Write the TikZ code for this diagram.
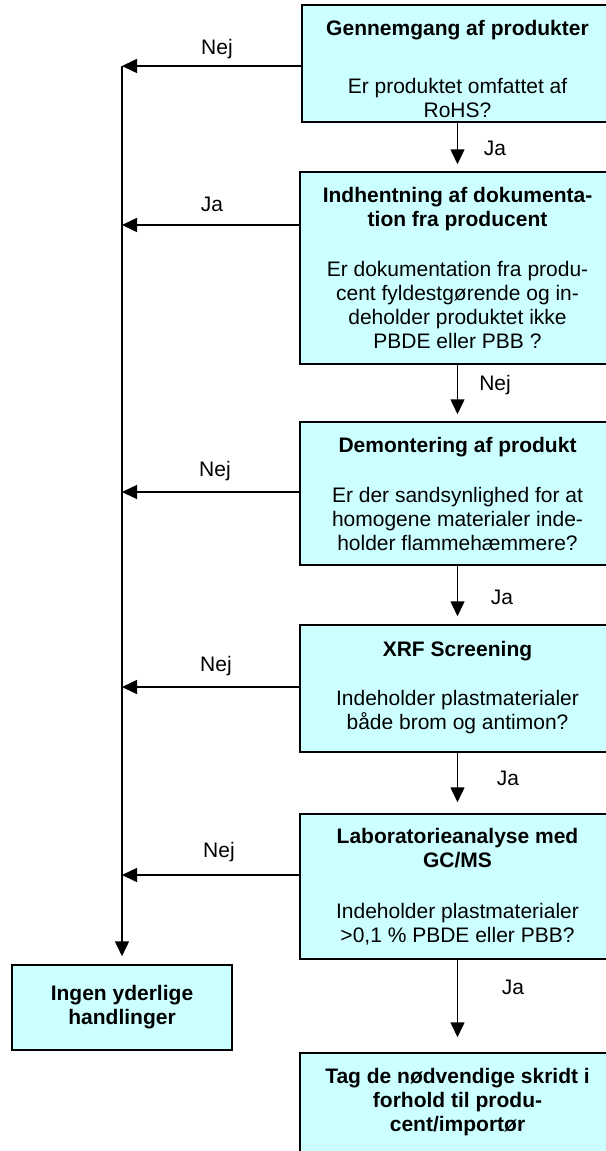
\documentclass[tikz,border=0pt]{standalone}
\usepackage{fontspec}
\setmainfont{Liberation Sans}
\usetikzlibrary{arrows.meta}
\definecolor{boxfill}{RGB}{204,255,255}
\begin{document}
\begin{tikzpicture}[x=1pt,y=-1pt,
  every node/.style={font=\fontsize{21}{24}\selectfont},
  stepbox/.style={draw=black,line width=1.5pt,fill=boxfill,inner sep=0pt},
  boxtext/.style={anchor=north,align=center,inner sep=0pt},
  flow/.style={line width=1.5pt,-{Triangle[length=15pt,width=14pt]}},
  lbl/.style={inner sep=0pt},
]
\useasboundingbox (0,0) rectangle (605,1151);

% process boxes (right edges run off the page)
\node[stepbox,minimum width=311pt,minimum height=117pt] (b1) at (457.5,63.5) {};
\node[stepbox,minimum width=315pt,minimum height=192pt] (b2) at (457.5,268) {};
\node[stepbox,minimum width=315pt,minimum height=143pt] (b3) at (457.5,493.5) {};
\node[stepbox,minimum width=315pt,minimum height=127pt] (b4) at (457.5,688.5) {};
\node[stepbox,minimum width=315pt,minimum height=145pt] (b5) at (457.5,886.5) {};
\node[stepbox,minimum width=315pt,minimum height=100pt] (b6) at (457.5,1103) {};
\node[stepbox,minimum width=220pt,minimum height=85pt] (stop) at (122,1007.5) {};

% box texts, first baseline 18pt below the node top
\node[boxtext] (t1) at (457.5,17) {\rule{0pt}{18pt}\textbf{Gennemgang af produkter}\\[34pt]
  Er produktet omfattet af\\RoHS?};
\node[boxtext] (t2) at (457.5,184) {\rule{0pt}{18pt}\textbf{Indhentning af dokumenta-}\\\textbf{tion fra producent}\\[26pt]
  Er dokumentation fra produ-\\cent fyldestgørende og in-\\deholder produktet ikke\\PBDE eller PBB ?};
\node[boxtext] (t3) at (457.5,434) {\rule{0pt}{18pt}\textbf{Demontering af produkt}\\[26pt]
  Er der sandsynlighed for at\\homogene materialer inde-\\holder flammehæmmere?};
\node[boxtext] (t4) at (457.5,638) {\rule{0pt}{18pt}\textbf{XRF Screening}\\[25pt]
  Indeholder plastmaterialer\\både brom og antimon?};
\node[boxtext] (t5) at (457.5,825) {\rule{0pt}{18pt}\textbf{Laboratorieanalyse med}\\\textbf{GC/MS}\\[27pt]
  Indeholder plastmaterialer\\>0,1 \% PBDE eller PBB?};
\node[boxtext] (t6) at (457.5,1065) {\rule{0pt}{18pt}\textbf{Tag de nødvendige skridt i}\\\textbf{forhold til produ-}\\\textbf{cent/importør}};
\node[align=center,inner sep=0pt] (t7) at (stop) {\textbf{Ingen yderlige}\\\textbf{handlinger}};

% joints on the collecting line
\coordinate (c1) at (122,66);
\coordinate (c2) at (122,225);
\coordinate (c3) at (122,492);
\coordinate (c4) at (122,687);
\coordinate (c5) at (122,875);

% collecting line down to the final box
\draw[flow,shorten >=8pt] (c1) -- (stop);

% branches to the left
\draw[flow] (b1.west |- c1) -- (c1);
\draw[flow] (b2.west |- c2) -- (c2);
\draw[flow] (b3.west |- c3) -- (c3);
\draw[flow] (b4.west |- c4) -- (c4);
\draw[flow] (b5.west |- c5) -- (c5);

% main flow downwards
\draw[flow,shorten >=7pt] (b1) -- (b2);
\draw[flow,shorten >=7pt] (b2) -- (b3);
\draw[flow,shorten >=8pt] (b3) -- (b4);
\draw[flow,shorten >=11pt] (b4) -- (b5);
\draw[flow,shorten >=15pt] (b5) -- (b6);

% answers
\node[lbl] (n1) at (217,49) {Nej};
\node[lbl] (n2) at (212,204) {Ja};
\node[lbl] (n3) at (215,471) {Nej};
\node[lbl] (n4) at (216,666) {Nej};
\node[lbl] (n5) at (219,852) {Nej};
\node[lbl] (a1) at (495,148) {Ja};
\node[lbl] (a2) at (495,385) {Nej};
\node[lbl] (a3) at (502,597) {Ja};
\node[lbl] (a4) at (508,778) {Ja};
\node[lbl] (a5) at (513,987) {Ja};
\end{tikzpicture}
\end{document}
